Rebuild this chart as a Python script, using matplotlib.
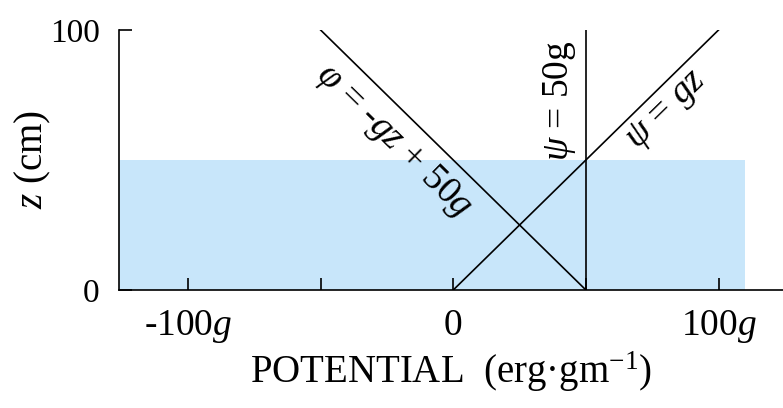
import numpy as np
import matplotlib.pyplot as plt

plt.rcParams['font.family'] = ['Liberation Serif', 'DejaVu Serif']
plt.rcParams['mathtext.fontset'] = 'custom'
plt.rcParams['mathtext.rm'] = 'Liberation Serif'
plt.rcParams['mathtext.it'] = 'Liberation Serif:italic'

# potential lines (in units of g) against height z (cm)
z = np.array([0, 100])
grav = z                     # psi = g z
pressure = -z + 50           # phi = -g z + 50 g
total = np.array([50, 50])   # psi = 50 g

water_top = 50
water_right = 110

xticks = [-100, -50, 0, 50, 100]
xticklabels = ['-100$g$', '', '0', '', '100$g$']
yticks = [0, 100]
yticklabels = ['0', '100']

fig = plt.figure(figsize=(7.83, 4.08), dpi=100)
ax = fig.add_axes([119 / 783, 1 - 290 / 408, 664 / 783, 260 / 408])

ax.fill_between([-126, water_right], 0, water_top, color='#c8e6fa', lw=0, zorder=0)
ax.plot(grav, z, color='black', lw=1.2)
ax.plot(pressure, z, color='black', lw=1.2)
ax.plot(total, z, color='black', lw=1.2)

ax.set_xlim(-126, 124.3)
ax.set_ylim(0, 100)
for s in ['top', 'right']:
    ax.spines[s].set_visible(False)
for s in ['left', 'bottom']:
    ax.spines[s].set_linewidth(1.2)

ax.set_xticks(xticks)
ax.set_xticklabels(xticklabels)
ax.set_yticks(yticks)
ax.set_yticklabels(yticklabels)
ax.tick_params(axis='both', direction='in', length=9, width=1.2)
ax.tick_params(axis='x', pad=13, labelsize=27)
ax.tick_params(axis='y', pad=14, labelsize=24)

ax.set_xlabel('POTENTIAL  (erg·gm$^{-1}$)', fontsize=28, labelpad=3)
ax.set_ylabel('$z$ (cm)', fontsize=28, va='center')
ax.yaxis.set_label_coords((33 - 119) / 664, 0.5)


def angle_of(xs, ys):
    p = ax.transData.transform(np.column_stack([xs, ys]))
    d = p[1] - p[0]
    return np.degrees(np.arctan2(d[1], d[0]))


ax.text(-22.6, 57.3, '$φ$ = -$gz$ + 50$g$', fontsize=27,
        rotation=angle_of(pressure[::-1], z[::-1]), ha='center', va='center',
        rotation_mode='anchor')
ax.text(40, 73, '$ψ$ = 50g', fontsize=27, rotation=90,
        ha='center', va='center', rotation_mode='anchor')
ax.text(80.6, 69.2, '$ψ$ = $gz$', fontsize=27,
        rotation=angle_of(grav, z), ha='center', va='center',
        rotation_mode='anchor')

fig.savefig('out.png', dpi=100)
